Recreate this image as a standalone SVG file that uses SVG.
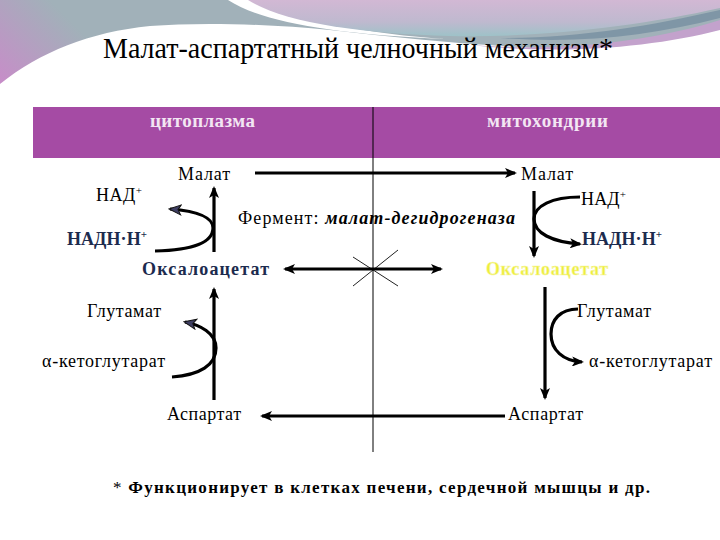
<svg xmlns="http://www.w3.org/2000/svg" width="720" height="540" viewBox="0 0 720 540">
<defs>
<linearGradient id="gTop" gradientUnits="userSpaceOnUse" x1="0" y1="90" x2="70" y2="20">
<stop offset="0" stop-color="#c98bc9"/><stop offset="1" stop-color="#a1b1b9"/>
</linearGradient>
<linearGradient id="gLobe" x1="0" y1="0" x2="0" y2="1">
<stop offset="0" stop-color="#d2b8d4"/><stop offset="0.6" stop-color="#bfb9cf"/><stop offset="1" stop-color="#9ec2c8"/>
</linearGradient>
<marker id="ah" viewBox="0 0 12 10" markerWidth="12" markerHeight="10" refX="10" refY="5" orient="auto" markerUnits="userSpaceOnUse">
<path d="M0,0 L12,5 L0,10 L3,5 Z" fill="#000"/>
</marker>
<marker id="ahs" viewBox="0 0 12 10" markerWidth="12" markerHeight="10" refX="10" refY="5" orient="auto-start-reverse" markerUnits="userSpaceOnUse">
<path d="M0,0 L12,5 L0,10 L3,5 Z" fill="#000"/>
</marker>
<marker id="ahd" viewBox="0 0 14 12" markerWidth="14" markerHeight="12" refX="12" refY="6" orient="auto" markerUnits="userSpaceOnUse">
<path d="M1,1 L13,6 L1,11 L4,6 Z" fill="#3e3e62" stroke="#111" stroke-width="1"/>
</marker>
<style>
text{fill:#000}
.lbl{font-size:18px}
.nav{font-size:18px;font-weight:bold;fill:#1c2b4e}
.hdr{font-size:19px;font-weight:bold;fill:#f3e6f3}
.sup{font-size:11px}
.arr{fill:none;stroke:#000;stroke-width:3.2}
</style>
</defs>

<g id="background">
<path d="M0,0 H720 V26 C660,40 600,50 540,48 C470,45 400,38 330,30 C270,24 200,22 150,26 C90,32 40,52 0,84 Z" fill="url(#gTop)"/>
<path d="M470,45 C560,52 650,42 720,20 V30 C650,48 560,55 470,45 Z" fill="#c3a2cc"/>
<path d="M228,0 C262,22 330,34 445,39 C370,34 295,20 252,0 Z" fill="#ffffff"/>
<path d="M248,0 C282,22 360,34 450,36 C540,38 640,26 720,8 V0 Z" fill="url(#gLobe)"/>
<path d="M500,38 C580,38 650,26 720,10 V18 C650,36 580,44 500,38 Z" fill="#7f96a6"/>
</g>

<g font-family="'Liberation Serif', 'DejaVu Serif', serif">
<g id="title">
<text x="103" y="58" font-size="30" textLength="510" lengthAdjust="spacingAndGlyphs">Малат-аспартатный челночный механизм*</text>
</g>

<g id="header">
<rect x="33" y="107" width="687" height="51" fill="#a54ba4"/>
<text class="hdr" x="150" y="127" textLength="105">цитоплазма</text>
<text class="hdr" x="487" y="127" textLength="121">митохондрии</text>
</g>

<g id="membrane">
<line x1="373" y1="107" x2="373" y2="452" stroke="#000" stroke-width="1"/>
<line x1="353" y1="286" x2="398" y2="250" stroke="#222" stroke-width="1"/>
<line x1="353" y1="257" x2="398" y2="286" stroke="#222" stroke-width="1"/>
</g>

<g id="connectors">
<line class="arr" x1="255" y1="173" x2="515" y2="173" marker-end="url(#ah)"/>
<line class="arr" x1="214" y1="252" x2="214" y2="188" marker-end="url(#ah)"/>
<path class="arr" d="M155,251 C195,250 213,242 213,228 C213,216 195,211 170,209" marker-end="url(#ahd)"/>
<line class="arr" x1="534" y1="191" x2="534" y2="256" marker-end="url(#ah)"/>
<path class="arr" d="M580,197 C552,197 534,206 534,219 C534,233 552,242 580,244" marker-end="url(#ah)"/>
<line class="arr" x1="285" y1="269" x2="441" y2="269" marker-start="url(#ahs)" marker-end="url(#ahs)"/>
<line class="arr" x1="214" y1="400" x2="214" y2="289" marker-end="url(#ah)"/>
<path class="arr" d="M172,377 C200,375 216,365 216,348 C216,333 200,325 185,322" marker-end="url(#ahd)"/>
<line class="arr" x1="545" y1="287" x2="545" y2="398" marker-end="url(#ah)"/>
<path class="arr" d="M578,309 C560,309 551,320 551,334 C551,350 563,361 582,362" marker-end="url(#ah)"/>
<line class="arr" x1="505" y1="416" x2="262" y2="416" marker-end="url(#ah)"/>
</g>

<g id="malate-cyto"><text class="lbl" x="178" y="180" textLength="52">Малат</text></g>
<g id="malate-mito"><text class="lbl" x="521" y="180" textLength="52">Малат</text></g>
<g id="nad-cyto"><text class="lbl" x="96" y="201" textLength="46">НАД<tspan class="sup" dy="-7">+</tspan></text></g>
<g id="nadh-cyto"><text class="nav" x="67" y="245" textLength="80">НАДН·Н<tspan class="sup" dy="-7">+</tspan></text></g>
<g id="enzyme"><text class="lbl" x="238" y="224" textLength="277">Фермент: <tspan font-weight="bold" font-style="italic">малат-дегидрогеназа</tspan></text></g>
<g id="nad-mito"><text class="lbl" x="581" y="205" textLength="45">НАД<tspan class="sup" dy="-7">+</tspan></text></g>
<g id="nadh-mito"><text class="nav" x="582" y="245" textLength="80">НАДН·Н<tspan class="sup" dy="-7">+</tspan></text></g>
<g id="oxaloacetate-cyto"><text class="nav" x="142" y="275" textLength="127">Оксалоацетат</text></g>
<g id="oxaloacetate-mito"><text class="nav" x="486" y="275" textLength="122" style="fill:#eeee3a;stroke:#f6f6a8;stroke-width:0.6">Оксалоацетат</text></g>
<g id="glutamate-cyto"><text class="lbl" x="87" y="317" textLength="74">Глутамат</text></g>
<g id="akg-cyto"><text class="lbl" x="42" y="367" textLength="123">α-кетоглутарат</text></g>
<g id="aspartate-cyto"><text class="lbl" x="167" y="420" textLength="74">Аспартат</text></g>
<g id="glutamate-mito"><text class="lbl" x="577" y="317" textLength="74">Глутамат</text></g>
<g id="akg-mito"><text class="lbl" x="589" y="367" textLength="123">α-кетоглутарат</text></g>
<g id="aspartate-mito"><text class="lbl" x="508" y="420" textLength="75">Аспартат</text></g>

<g id="footnote">
<text x="113" y="493" font-size="17" font-weight="bold" textLength="537"><tspan font-weight="normal">*</tspan> Функционирует в клетках печени, сердечной мышцы и др.</text>
</g>
</g>
</svg>
